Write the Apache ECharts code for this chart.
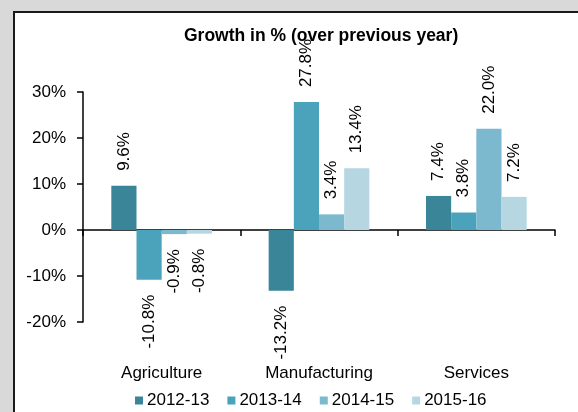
<!DOCTYPE html>
<html>
<head>
<meta charset="utf-8">
<script src="https://cdn.jsdelivr.net/npm/echarts@6/dist/echarts.min.js"></script>
<style>
html,body{margin:0;padding:0;}
#wrap{position:relative;width:578px;height:412px;background:#d9d9d9;overflow:hidden;}
#panel{position:absolute;left:13px;top:11px;width:600px;height:440px;background:#fff;border:2px solid #1a1a1a;box-sizing:border-box;}
#chart{position:absolute;left:0;top:0;width:578px;height:412px;}
</style>
</head>
<body>
<div id="wrap"><div id="panel"></div><div id="chart"></div></div>
<script>
const categories = ['Agriculture', 'Manufacturing', 'Services'];
const seriesNames = ['2012-13', '2013-14', '2014-15', '2015-16'];
const s2012 = [9.6, -13.2, 7.4];
const s2013 = [-10.8, 27.8, 3.8];
const s2014 = [-0.9, 3.4, 22.0];
const s2015 = [-0.8, 13.4, 7.2];
const yTicks = [-20, -10, 0, 10, 20, 30];
const colors = ['#3a8598', '#4aa3bb', '#7cb9cf', '#b6d6e1'];

const allValues = [s2012, s2013, s2014, s2015];
const FONT = 'Liberation Sans, Arial, sans-serif';

function makeData(vals) {
  return vals.map(v => ({
    value: v,
    label: v >= 0
      ? {position: 'top', align: 'left', verticalAlign: 'middle'}
      : {position: 'bottom', align: 'right', verticalAlign: 'middle'}
  }));
}

const chart = echarts.init(document.getElementById('chart'), null, {renderer: 'canvas'});
chart.setOption({
  backgroundColor: 'transparent',
  animation: false,
  color: colors,
  title: {
    text: 'Growth in % (over previous year)',
    left: 179, top: 22,
    textStyle: {fontFamily: FONT, fontSize: 17.5, fontWeight: 'bold', color: '#000'}
  },
  legend: {
    data: seriesNames,
    bottom: -2, left: 130,
    itemWidth: 8, itemHeight: 8, itemGap: 18,
    icon: 'rect',
    textStyle: {fontFamily: FONT, fontSize: 17, color: '#000', padding: [0,0,0,-1]}
  },
  grid: {left: 83, right: 23, top: 92, bottom: 90, containLabel: false},
  xAxis: [{
    type: 'category', data: categories,
    axisLine: {onZero: true, lineStyle: {color: '#000', width: 1.5}},
    axisTick: {show: true, length: 6, lineStyle: {color: '#000', width: 1.5}},
    axisLabel: {show: false}
  }, {
    type: 'category', data: categories, position: 'bottom',
    axisLine: {show: false, onZero: false},
    axisTick: {show: false},
    axisLabel: {show: true, margin: 43, fontFamily: FONT, fontSize: 17, color: '#000'}
  }],
  yAxis: {
    type: 'value', min: yTicks[0], max: yTicks[yTicks.length-1], interval: 10,
    splitLine: {show: false},
    axisLine: {show: true, lineStyle: {color: '#000', width: 1.5}},
    axisTick: {show: true, length: 6, lineStyle: {color: '#000', width: 1.5}},
    axisLabel: {formatter: '{value}%', margin: 17, fontFamily: FONT, fontSize: 17, color: '#000'}
  },
  series: seriesNames.map((name, i) => ({
    name: name, type: 'bar', xAxisIndex: 0,
    data: makeData(allValues[i]),
    barGap: '0%', barCategoryGap: '36%',
    itemStyle: {color: colors[i]},
    label: {
      show: true, rotate: 90, distance: 15,
      formatter: p => p.value.toFixed(1) + '%',
      fontFamily: FONT, fontSize: 17, color: '#000'
    }
  }))
});
</script>
</body>
</html>
